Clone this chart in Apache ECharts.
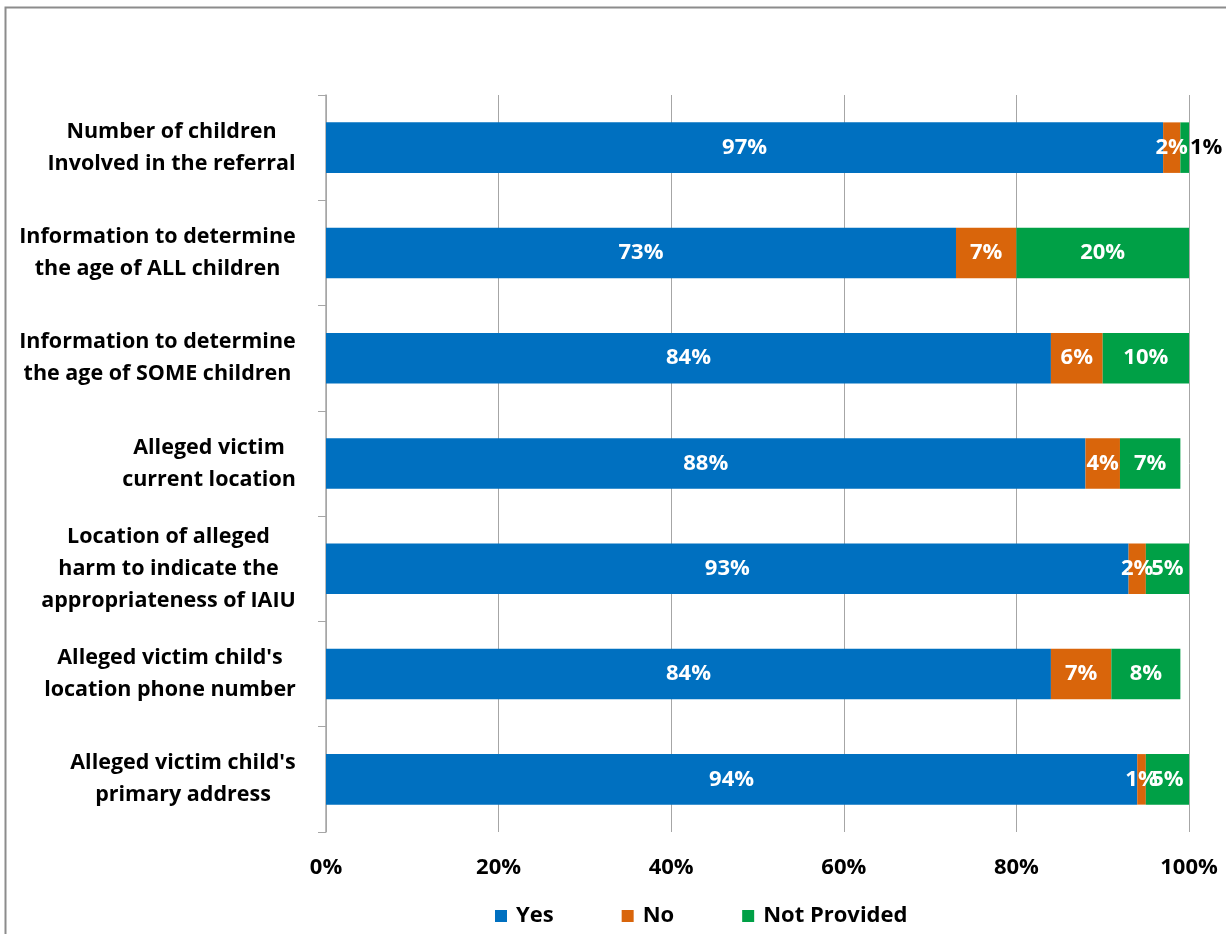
<!DOCTYPE html>
<html>
<head>
<meta charset="utf-8">
<script src="https://cdn.jsdelivr.net/npm/echarts@6/dist/echarts.min.js"></script>
<style>
html,body{margin:0;padding:0;background:#fff;}
#chart{width:1226px;height:934px;}
</style>
</head>
<body>
<div id="chart"></div>
<script>
var categories = [
  "Number of children\nInvolved in the referral",
  "Information to determine\nthe age of ALL children",
  "Information to determine\nthe age of SOME children",
  "Alleged victim\ncurrent location",
  "Location of alleged\nharm to indicate the\nappropriateness of IAIU",
  "Alleged victim child's\nlocation phone number",
  "Alleged victim child's\nprimary address"
];
var yesValues = [97, 73, 84, 88, 93, 84, 94];
var noValues = [2, 7, 6, 4, 2, 7, 1];
var notProvidedValues = [1, 20, 10, 7, 5, 8, 5];
var seriesNames = ["Yes", "No", "Not Provided"];
var colors = ["#0070c0", "#d9650b", "#00a046"];

var FONT = "'Open Sans', sans-serif";
var CAT_SIZE = 21.5;

// per-category rich styles so that each label block is right-aligned and its lines centered
var measureCtx = document.createElement('canvas').getContext('2d');
measureCtx.font = 'bold ' + CAT_SIZE + 'px ' + FONT;
var rich = {};
categories.forEach(function (c, i) {
  var w = 0;
  c.split('\n').forEach(function (l) { w = Math.max(w, measureCtx.measureText(l).width); });
  rich['c' + i] = {
    width: Math.ceil(w) + 2, align: 'center',
    fontFamily: FONT, fontWeight: 'bold', fontSize: CAT_SIZE, color: '#000', lineHeight: 32
  };
});

function mkLabel(color) {
  return {
    show: true,
    position: 'inside',
    color: color,
    fontFamily: FONT,
    fontWeight: 'bold',
    fontSize: 22,
    formatter: function (p) { return p.value > 0 ? p.value + '%' : ''; }
  };
}

function mkSeries(name, vals, color, idx) {
  var data = vals.map(function (v, i) {
    if (idx === 2 && i === 0) {
      return { value: v, label: { position: 'right', color: '#000', distance: 1 } };
    }
    return v;
  });
  return {
    name: name,
    type: 'bar',
    stack: 'total',
    barWidth: '48%',
    itemStyle: { color: color },
    label: mkLabel('#fff'),
    data: data
  };
}

var chart = echarts.init(document.getElementById('chart'));
chart.setOption({
  animation: false,
  backgroundColor: '#fff',
  graphic: [{
    type: 'rect',
    left: 3, top: 5,
    shape: { width: 1260, height: 960 },
    style: { fill: 'none', stroke: '#8c8c8c', lineWidth: 2 },
    silent: true
  }],
  grid: { left: 326, right: 37, top: 95, bottom: 102, containLabel: false },
  legend: {
    bottom: 2,
    left: 490,
    itemWidth: 12,
    itemHeight: 12,
    itemGap: 68,
    icon: 'rect',
    textStyle: { fontFamily: FONT, fontWeight: 'bold', fontSize: 22, color: '#000', padding: [0, 0, 0, 4] },
    data: seriesNames
  },
  xAxis: {
    type: 'value',
    min: 0, max: 100, interval: 20,
    axisLine: { show: false },
    axisTick: { show: false },
    splitLine: { show: true, lineStyle: { color: '#a6a6a6', width: 1 } },
    axisLabel: {
      formatter: '{value}%',
      margin: 25,
      fontFamily: FONT, fontWeight: 'bold', fontSize: 22, color: '#000'
    }
  },
  yAxis: {
    type: 'category',
    inverse: true,
    data: categories,
    axisLine: { show: true, lineStyle: { color: '#a6a6a6', width: 1.5 } },
    axisTick: { show: true, length: 8, lineStyle: { color: '#a6a6a6' } },
    axisLabel: {
      margin: 29,
      align: 'right',
      rich: rich,
      fontFamily: FONT, fontWeight: 'bold', fontSize: CAT_SIZE, color: '#000',
      lineHeight: 32,
      formatter: function (v, idx) {
        return v.split('\n').map(function (l) { return '{c' + idx + '|' + l + '}'; }).join('\n');
      }
    }
  },
  series: [
    mkSeries(seriesNames[0], yesValues, colors[0], 0),
    mkSeries(seriesNames[1], noValues, colors[1], 1),
    mkSeries(seriesNames[2], notProvidedValues, colors[2], 2)
  ]
});
</script>
</body>
</html>
